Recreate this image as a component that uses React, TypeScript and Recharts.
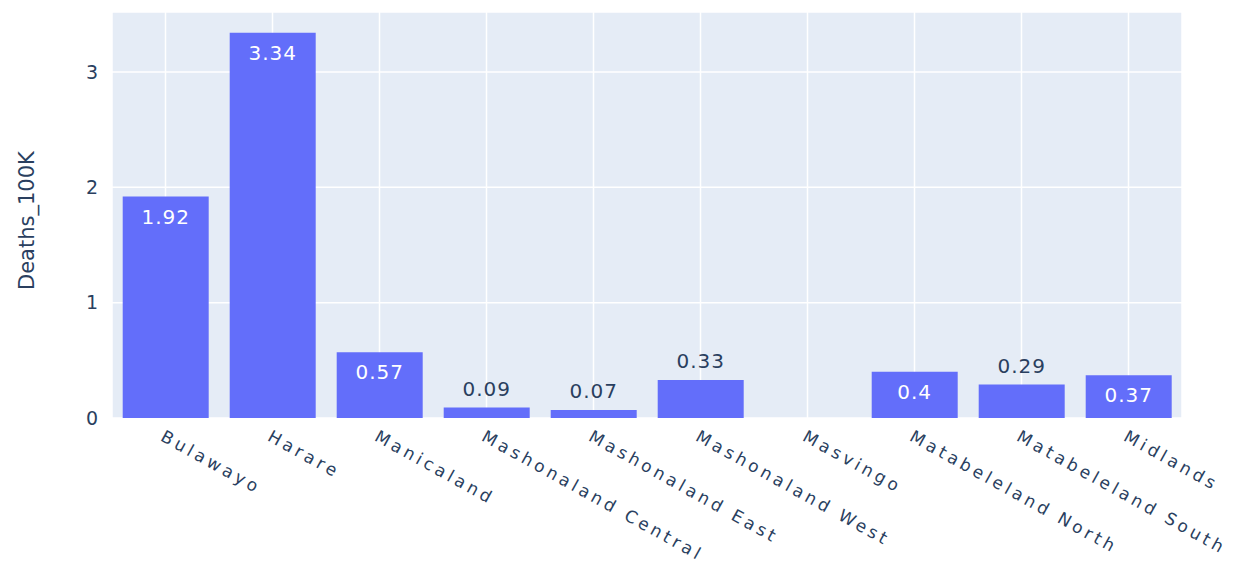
import React from 'react';
import { BarChart, Bar, XAxis, YAxis, CartesianGrid, LabelList } from 'recharts';

const provinces = [
  'Bulawayo',
  'Harare',
  'Manicaland',
  'Mashonaland Central',
  'Mashonaland East',
  'Mashonaland West',
  'Masvingo',
  'Matabeleland North',
  'Matabeleland South',
  'Midlands',
];
const deaths100k = [1.92, 3.34, 0.57, 0.09, 0.07, 0.33, 0, 0.4, 0.29, 0.37];
const yTicks = [0, 1, 2, 3];

const data = provinces.map((p, i) => ({ province: p, deaths: deaths100k[i] }));

const FONT = '"DejaVu Sans", Verdana, sans-serif';
const TEXT = '#2a3f5f';

const XTick = (props: any) => {
  const { x, y, payload } = props;
  const px = x - 6;
  const py = y + 14;
  return (
    <text
      x={px}
      y={py}
      transform={`rotate(29, ${px}, ${py})`}
      fill={TEXT}
      fontSize={17}
      letterSpacing={3.7}
      fontFamily={FONT}
      textAnchor="start"
    >
      {payload.value}
    </text>
  );
};

const BarLabel = (props: any) => {
  const { x, y, width, height, value } = props;
  if (!value) return null;
  const inside = height > 40;
  return (
    <text
      x={x + width / 2}
      y={inside ? y + 27 : y - 12}
      fill={inside ? '#ffffff' : TEXT}
      fontSize={20}
      letterSpacing={1}
      fontFamily={FONT}
      textAnchor="middle"
    >
      {value}
    </text>
  );
};

const App: React.FC = () => {
  return (
    <div style={{ position: 'absolute', left: 0, top: 0, background: '#fff' }}>
      <BarChart
        width={1243}
        height={564}
        data={data}
        barCategoryGap="10%"
        margin={{ top: 12, right: 61, left: 52, bottom: 0 }}
      >
        <CartesianGrid stroke="#ffffff" strokeWidth={1.5} fill="#E5ECF6" fillOpacity={1} />
        <XAxis
          dataKey="province"
          height={146}
          axisLine={false}
          tickLine={false}
          interval={0}
          tick={<XTick />}
        />
        <YAxis
          width={60}
          domain={[0, 3.52]}
          ticks={yTicks}
          axisLine={false}
          tickLine={false}
          tick={{ fill: TEXT, fontSize: 19, fontFamily: FONT }}
          tickMargin={8}
          label={{
            value: 'Deaths_100K',
            angle: -90,
            position: 'insideLeft',
            dx: -30,
            dy: 75,
            style: { fill: TEXT, fontSize: 21, fontFamily: FONT },
          }}
        />
        <Bar dataKey="deaths" fill="#636efa" isAnimationActive={false}>
          <LabelList dataKey="deaths" content={<BarLabel />} />
        </Bar>
      </BarChart>
    </div>
  );
};

export default App;
